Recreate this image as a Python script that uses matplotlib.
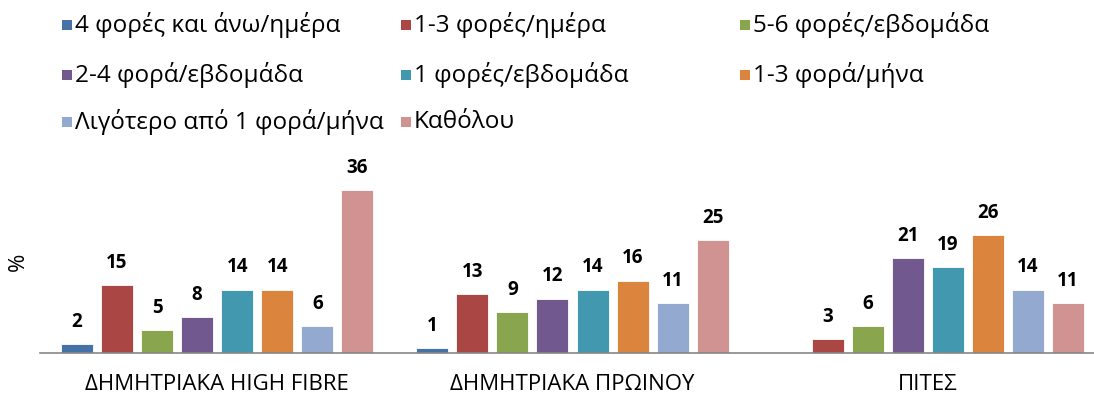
import numpy as np
import matplotlib.pyplot as plt
from matplotlib.patches import Rectangle

plt.rcParams["font.family"] = ["Open Sans", "DejaVu Sans"]

categories = ["ΔΗΜΗΤΡΙΑΚΑ HIGH FIBRE", "ΔΗΜΗΤΡΙΑΚΑ ΠΡΩΙΝΟΥ", "ΠΙΤΕΣ"]
series_names = [
    "4 φορές και άνω/ημέρα",
    "1-3 φορές/ημέρα",
    "5-6 φορές/εβδομάδα",
    "2-4 φορά/εβδομάδα",
    "1 φορές/εβδομάδα",
    "1-3 φορά/μήνα",
    "Λιγότερο από 1 φορά/μήνα",
    "Καθόλου",
]
four_plus_day = [2, 1, np.nan]
one_three_day = [15, 13, 3]
five_six_week = [5, 9, 6]
two_four_week = [8, 12, 21]
once_week = [14, 14, 19]
one_three_month = [14, 16, 26]
less_month = [6, 11, 14]
never = [36, 25, 11]

values = [four_plus_day, one_three_day, five_six_week, two_four_week,
          once_week, one_three_month, less_month, never]
colors = ["#4572A7", "#AA4643", "#89A54E", "#71588F",
          "#4198AF", "#DB843D", "#93A9CF", "#D19392"]

fig = plt.figure(figsize=(10.94, 4.0), dpi=100)
ax = fig.add_axes([39.5 / 1094, 47 / 400, 1066 / 1094, 181 / 400])

x = np.arange(len(categories))
pitch = 40 / 355
width = 32 / 355

for i, (vals, color) in enumerate(zip(values, colors)):
    pos = x + (i - 3.5) * pitch
    bars = ax.bar(pos, vals, width, color=color, edgecolor="white", linewidth=0.6)
    for b, v in zip(bars, vals):
        if np.isnan(v):
            continue
        ax.annotate(f"{v:g}", (b.get_x() + b.get_width() / 2, v),
                    xytext=(0, 16), textcoords="offset points",
                    ha="center", va="center", fontsize=13.5, fontweight="bold",
                    annotation_clip=False)

ax.set_xlim(-0.5, 2.5)
ax.set_ylim(0, 40)
ax.set_xticks(x)
ax.set_xticklabels(categories, fontsize=16)
ax.tick_params(axis="x", length=0, pad=15)
ax.set_yticks([])
for side in ["top", "right", "left"]:
    ax.spines[side].set_visible(False)
ax.spines["bottom"].set_color("#868686")
ax.spines["bottom"].set_linewidth(1.2)

fig.text(18 / 1094, 1 - 262 / 400, "%", rotation=90, fontsize=16,
         ha="center", va="center")

# legend laid out row by row in three columns
row_y = [25, 75, 122]
col_x = [62, 401, 740]
for i, (name, color) in enumerate(zip(series_names, colors)):
    r, c = divmod(i, 3)
    px, py = col_x[c], row_y[r]
    fig.patches.append(Rectangle((px / 1094, 1 - (py + 5) / 400), 10 / 1094, 10 / 400,
                                 transform=fig.transFigure, facecolor=color,
                                 edgecolor="none"))
    fig.text((px + 13) / 1094, 1 - py / 400, name, fontsize=17.5,
             ha="left", va="center")

fig.savefig("out.png", dpi=100)
